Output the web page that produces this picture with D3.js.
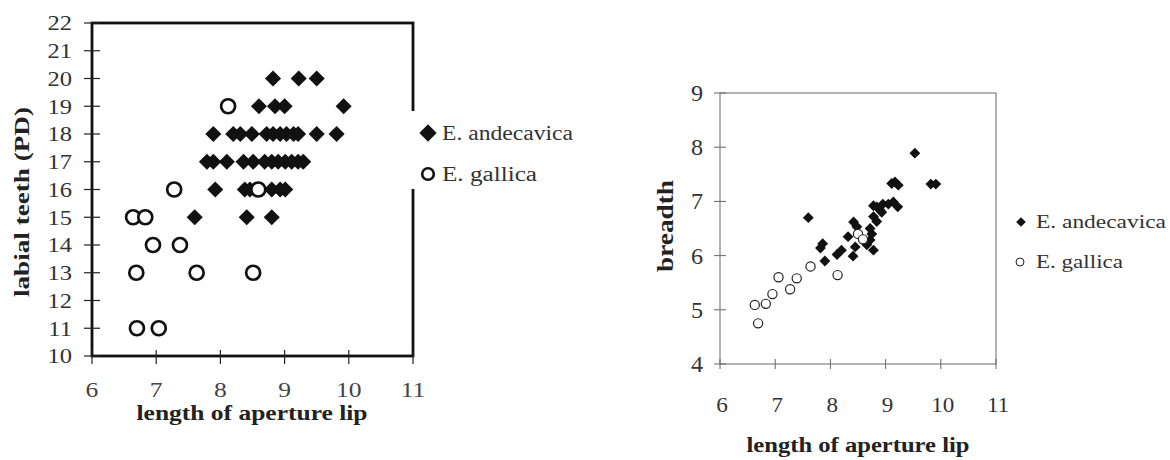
<!DOCTYPE html>
<html><head><meta charset="utf-8">
<script src="https://cdn.jsdelivr.net/npm/d3@7"></script>
<style>body{margin:0;background:#fff}svg{display:block}text{font-family:"Liberation Serif","Times New Roman",serif}</style>
</head><body><svg id="c" width="1170" height="460"></svg>
<script>
// ---- data ----
const seriesNames = ["E. andecavica", "E. gallica"];
const xTicks = [6, 7, 8, 9, 10, 11];
const teethTicks = [10, 11, 12, 13, 14, 15, 16, 17, 18, 19, 20, 21, 22];
const breadthTicks = [4, 5, 6, 7, 8, 9];

// left chart: length of aperture lip vs labial teeth
const teethAndecavica = [
  [8.82,20],[9.22,20],[9.50,20],
  [8.60,19],[8.85,19],[9.00,19],[9.92,19],
  [7.89,18],[8.20,18],[8.31,18],[8.49,18],[8.72,18],[8.82,18],[8.93,18],[9.03,18],[9.14,18],[9.21,18],[9.50,18],[9.81,18],
  [7.79,17],[7.89,17],[8.10,17],[8.36,17],[8.51,17],[8.69,17],[8.80,17],[8.90,17],[9.01,17],[9.11,17],[9.21,17],[9.29,17],
  [7.92,16],[8.38,16],[8.46,16],[8.80,16],[8.93,16],[9.01,16],
  [7.60,15],[8.41,15],[8.80,15]
];
const teethGallica = [
  [8.12,19],[7.28,16],[8.59,16],[6.64,15],[6.83,15],[6.95,14],[7.37,14],
  [6.69,13],[7.63,13],[8.51,13],[6.70,11],[7.04,11]
];

// right chart: length of aperture lip vs breadth
const breadthAndecavica = [
  [9.53,7.89],[9.17,7.36],[9.23,7.30],[9.11,7.33],[9.82,7.32],[9.91,7.32],[7.60,6.70],
  [9.14,6.99],[9.22,6.90],[8.78,6.92],[8.84,6.90],[8.90,6.84],[8.93,6.80],[8.95,6.95],[9.05,6.95],
  [8.78,6.72],[8.84,6.63],[8.42,6.62],[8.48,6.53],[8.32,6.35],[8.72,6.50],[8.75,6.40],
  [8.72,6.29],[8.66,6.20],[8.45,6.16],[8.41,5.99],[8.78,6.10],
  [7.86,6.22],[7.82,6.14],[7.90,5.90],[8.12,6.02],[8.20,6.10]
];
const breadthGallica = [
  [6.63,5.09],[6.69,4.75],[6.83,5.11],[6.95,5.29],[7.06,5.60],[7.27,5.38],
  [7.39,5.58],[7.64,5.80],[8.13,5.64],[8.50,6.40],[8.59,6.30]
];

const svg = d3.select("#c");
const diamond = s => d3.symbol().type(d3.symbolDiamond2).size(s)();

function stretchedLabels(g, data, px, py, size, sx, anchor, fill){
  g.selectAll(null).data(data).join("text")
    .attr("transform", d => `translate(${px(d)},${py(d)}) scale(${sx},1)`)
    .attr("dy","0.35em").attr("text-anchor",anchor)
    .attr("font-size",size).attr("fill",fill).text(d=>d);
}
function fitText(g, str, x, y, size, len, opts){
  opts = opts || {};
  const t = g.append("text")
    .attr("x", opts.rotate ? 0 : x).attr("y", opts.rotate ? 0 : y)
    .attr("text-anchor","middle").attr("font-size",size)
    .attr("font-weight",opts.bold ? "bold" : "normal")
    .attr("fill",opts.fill || "#222")
    .attr("textLength",len).attr("lengthAdjust","spacingAndGlyphs").text(str);
  if (opts.rotate) t.attr("transform",`translate(${x},${y}) rotate(-90)`);
  if (opts.start) t.attr("text-anchor","start");
  if (opts.dy) t.attr("dy",opts.dy);
  return t;
}

// ---------- LEFT CHART ----------
(function(){
  const x = d3.scaleLinear().domain([6,11]).range([92,413]);
  const y = d3.scaleLinear().domain([10,22]).range([356,23]);
  const g = svg.append("g");
  g.append("rect").attr("x",x(6)).attr("y",y(22)).attr("width",x(11)-x(6)).attr("height",y(10)-y(22))
    .attr("fill","none").attr("stroke","#111").attr("stroke-width",2.8);
  g.selectAll(".yt").data(teethTicks).join("line")
    .attr("x1",x(6)-8).attr("x2",x(6)+8).attr("y1",d=>y(d)).attr("y2",d=>y(d))
    .attr("stroke","#222").attr("stroke-width",1.2);
  stretchedLabels(g, teethTicks, () => 72, d => y(d), 21, 1.17, "end", "#333");
  g.selectAll(".xt").data(xTicks).join("line")
    .attr("x1",d=>x(d)).attr("x2",d=>x(d)).attr("y1",y(10)-6).attr("y2",y(10)+8)
    .attr("stroke","#222").attr("stroke-width",1.2);
  stretchedLabels(g, xTicks, d => x(d), () => 390, 21, 1.22, "middle", "#444");
  fitText(g, "length of aperture lip", 252, 420, 21, 231, {bold:true});
  fitText(g, "labial teeth (PD)", 29, 202, 22, 190, {bold:true, rotate:true});
  g.selectAll(".a").data(teethAndecavica).join("path")
    .attr("d",diamond(165)).attr("transform",d=>`translate(${x(d[0])},${y(d[1])})`).attr("fill","#111");
  g.selectAll(".b").data(teethGallica).join("circle")
    .attr("cx",d=>x(d[0])).attr("cy",d=>y(d[1])).attr("r",7)
    .attr("fill","#fff").attr("stroke","#111").attr("stroke-width",2.7);
  // legend
  g.append("rect").attr("x",404).attr("y",111).attr("width",170).attr("height",78).attr("fill","#fff");
  g.append("path").attr("d",diamond(190)).attr("transform","translate(428,133)").attr("fill","#111");
  g.append("circle").attr("cx",428).attr("cy",174).attr("r",5.8).attr("fill","#fff").attr("stroke","#111").attr("stroke-width",2.6);
  fitText(g, seriesNames[0], 442, 133, 20, 131, {start:true, dy:"0.35em", fill:"#333"});
  fitText(g, seriesNames[1], 442, 174, 20, 95, {start:true, dy:"0.35em", fill:"#333"});
})();

// ---------- RIGHT CHART ----------
(function(){
  const x = d3.scaleLinear().domain([6,11]).range([720,996]);
  const y = d3.scaleLinear().domain([4,9]).range([364,93]);
  const g = svg.append("g");
  g.append("rect").attr("x",x(6)).attr("y",y(9)).attr("width",x(11)-x(6)).attr("height",y(4)-y(9))
    .attr("fill","none").attr("stroke","#777").attr("stroke-width",1.1);
  g.selectAll(".yt").data(breadthTicks).join("line")
    .attr("x1",x(6)-6).attr("x2",x(6)+6).attr("y1",d=>y(d)).attr("y2",d=>y(d))
    .attr("stroke","#666").attr("stroke-width",1);
  stretchedLabels(g, breadthTicks, () => 703, d => y(d), 23, 1.05, "end", "#333");
  g.selectAll(".xt").data(xTicks).join("line")
    .attr("x1",d=>x(d)).attr("x2",d=>x(d)).attr("y1",y(4)-5).attr("y2",y(4)+5)
    .attr("stroke","#666").attr("stroke-width",1);
  stretchedLabels(g, xTicks, d => x(d)+2, () => 404, 22, 1.05, "middle", "#333");
  fitText(g, "length of aperture lip", 858, 452, 20, 223, {bold:true});
  fitText(g, "breadth", 673, 226, 24, 92, {bold:true, rotate:true});
  g.selectAll(".a").data(breadthAndecavica).join("path")
    .attr("d",diamond(75)).attr("transform",d=>`translate(${x(d[0])},${y(d[1])})`).attr("fill","#111");
  g.selectAll(".b").data(breadthGallica).join("circle")
    .attr("cx",d=>x(d[0])).attr("cy",d=>y(d[1])).attr("r",4.6)
    .attr("fill","#fff").attr("stroke","#222").attr("stroke-width",1.2);
  g.append("path").attr("d",diamond(60)).attr("transform","translate(1021,222)").attr("fill","#111");
  g.append("circle").attr("cx",1020).attr("cy",262).attr("r",4).attr("fill","#fff").attr("stroke","#222").attr("stroke-width",1);
  fitText(g, seriesNames[0], 1036, 222, 18, 130, {start:true, dy:"0.35em", fill:"#333"});
  fitText(g, seriesNames[1], 1036, 262, 18, 87, {start:true, dy:"0.35em", fill:"#333"});
})();
</script></body></html>
